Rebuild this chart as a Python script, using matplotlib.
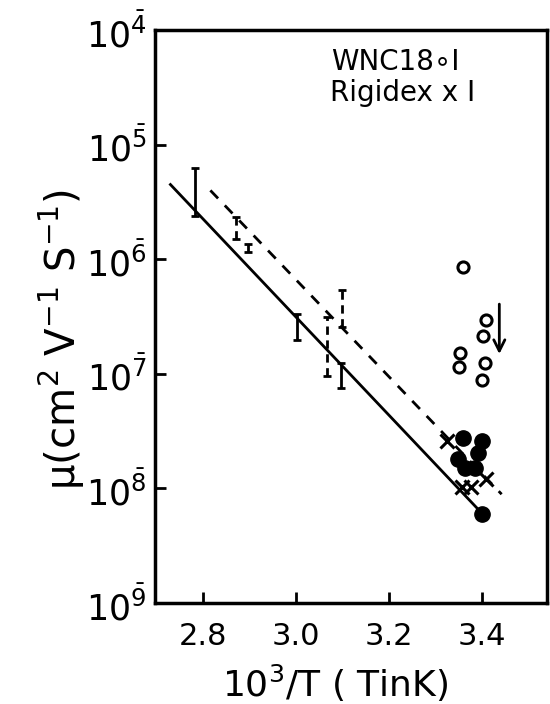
import matplotlib.pyplot as plt
import numpy as np

plt.rcParams['font.family'] = 'DejaVu Sans'
plt.rcParams['mathtext.default'] = 'regular'

# open circles (WNC18)
wnc_x = [3.360, 3.409, 3.403, 3.353, 3.352, 3.407, 3.400]
wnc_y = [8.5e-7, 2.94e-7, 2.15e-7, 1.51e-7, 1.14e-7, 1.24e-7, 8.85e-8]

# filled dots
dot_x = [3.360, 3.400, 3.393, 3.350, 3.364, 3.386, 3.400]
dot_y = [2.76e-8, 2.62e-8, 2.05e-8, 1.79e-8, 1.52e-8, 1.52e-8, 5.96e-9]

# crosses (Rigidex)
rig_x = [3.325, 3.357, 3.378, 3.410]
rig_y = [2.58e-8, 1.02e-8, 1.02e-8, 1.2e-8]

# solid error bars: x, low, high
solid_bx = [2.782, 3.002, 3.097]
solid_lo = [2.4e-6, 1.97e-7, 7.5e-8]
solid_hi = [6.3e-6, 3.36e-7, 1.24e-7]

# dashed error bars
dash_bx = [2.872, 2.896, 3.068, 3.100]
dash_lo = [1.5e-6, 1.16e-6, 9.5e-8, 2.58e-7]
dash_hi = [2.32e-6, 1.36e-6, 3.16e-7, 5.35e-7]

# fitted lines
solid_lx = [2.730, 3.389]
solid_ly = [4.5e-6, 6.8e-9]
dash_lx = [2.816, 3.443]
dash_ly = [4.0e-6, 8.9e-9]

# arrow
arrow_x = 3.438
arrow_y = [4.3e-7, 1.41e-7]

fig = plt.figure(figsize=(5.5, 7.04), dpi=100)
ax = fig.add_axes([0.282, 0.1435, 0.712, 0.8135])
ax.set_yscale('log')

ax.plot(solid_lx, solid_ly, 'k-', lw=2)
ax.plot(dash_lx, dash_ly, 'k--', lw=2, dashes=(4, 3.5))


def bars(x, lo, hi, ls):
    x = np.array(x)
    lo = np.array(lo)
    hi = np.array(hi)
    mid = np.sqrt(lo * hi)
    eb = ax.errorbar(x, mid, yerr=[mid - lo, hi - mid], fmt='none', ecolor='k',
                     elinewidth=2, capsize=3, capthick=2)
    eb[2][0].set_linestyle(ls)


bars(solid_bx, solid_lo, solid_hi, '-')
bars(dash_bx, dash_lo, dash_hi, (0, (3, 2)))

ax.plot(wnc_x, wnc_y, 'o', ms=8, mfc='white', mec='k', mew=2.2, ls='none')
ax.plot(dot_x, dot_y, 'o', ms=11, color='k', ls='none')
ax.plot(rig_x, rig_y, 'x', ms=10, mec='k', mew=2.2, ls='none')

ax.annotate('', xy=(arrow_x, arrow_y[1]), xytext=(arrow_x, arrow_y[0]),
            arrowprops=dict(arrowstyle='->', lw=2, color='k', mutation_scale=20))

ax.text(0.45, 0.944, 'WNC18\u2218I', transform=ax.transAxes, fontsize=20,
        va='center', ha='left')
ax.text(0.447, 0.89, 'Rigidex x I', transform=ax.transAxes, fontsize=20,
        va='center', ha='left')

ax.set_xlim(2.697, 3.54)
ax.set_ylim(1e-9, 1e-4)
ax.set_xticks([2.8, 3.0, 3.2, 3.4])
ax.set_xticklabels(['2.8', '3.0', '3.2', '3.4'])
ax.set_yticks([1e-9, 1e-8, 1e-7, 1e-6, 1e-5, 1e-4])
ax.set_yticklabels([r'$10^{\bar{%d}}$' % k for k in [9, 8, 7, 6, 5, 4]])
ax.minorticks_off()
ax.tick_params(direction='in', length=8, width=2, labelsize=22, pad=14)
ax.tick_params(axis='y', labelsize=25, pad=6)
for s in ax.spines.values():
    s.set_linewidth(2.5)

ax.set_xlabel('10$^3$/T ( TinK)', fontsize=26)
ax.xaxis.set_label_coords(0.46, -0.105)
ax.set_ylabel('\u03bc(cm$^2$ V$^{-1}$ S$^{-1}$)', fontsize=29)
ax.yaxis.set_label_coords(-0.175, 0.46)

fig.savefig('out.png', dpi=100)
